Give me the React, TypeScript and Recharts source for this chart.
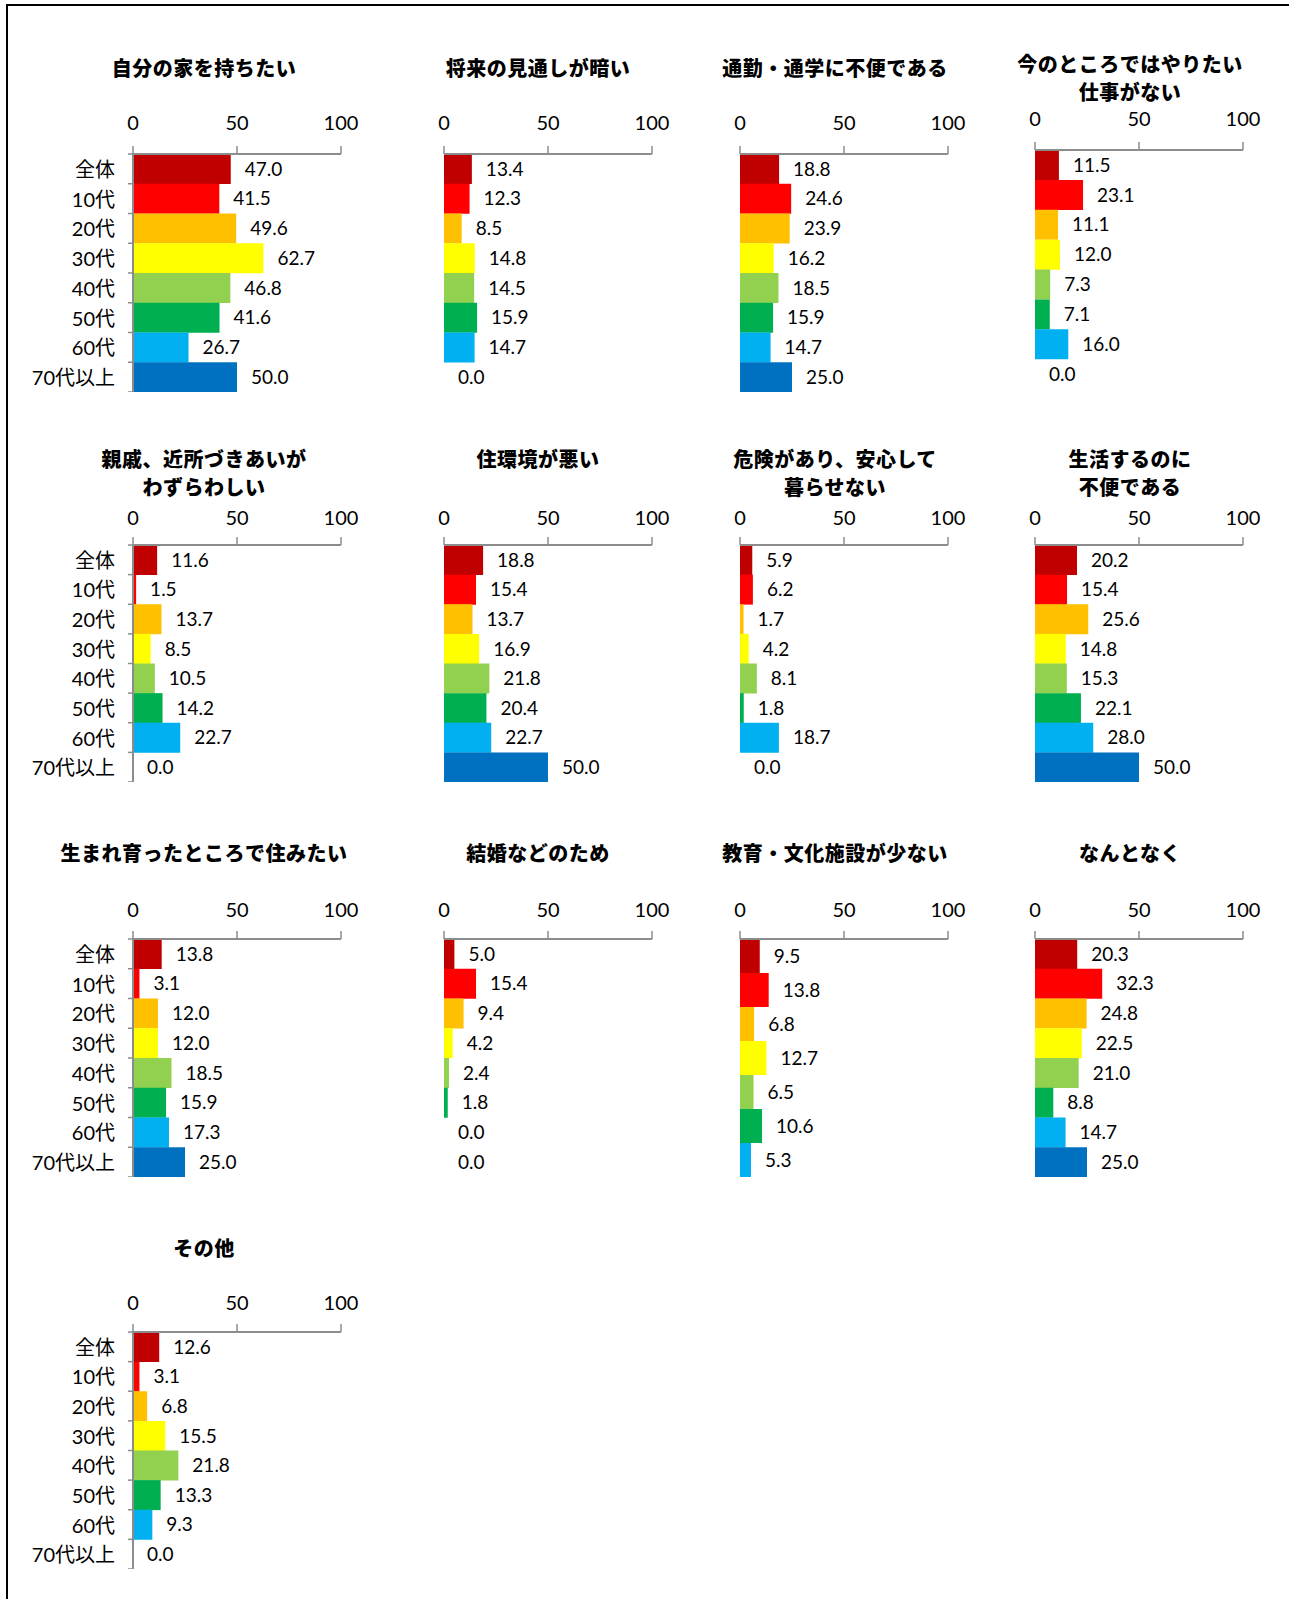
import { BarChart, Bar, XAxis, YAxis, Cell, LabelList } from "recharts"

const CATEGORIES = ["全体", "10代", "20代", "30代", "40代", "50代", "60代", "70代以上"]
const COLORS = ["#C00000", "#FF0000", "#FFC000", "#FFFF00", "#92D050", "#00B050", "#00B0F0", "#0070C0"]
const AXIS_TICKS = [0, 50, 100]

const ownHome = [47.0, 41.5, 49.6, 62.7, 46.8, 41.6, 26.7, 50.0]
const darkFuture = [13.4, 12.3, 8.5, 14.8, 14.5, 15.9, 14.7, 0.0]
const commute = [18.8, 24.6, 23.9, 16.2, 18.5, 15.9, 14.7, 25.0]
const noJob = [11.5, 23.1, 11.1, 12.0, 7.3, 7.1, 16.0, 0.0]
const relatives = [11.6, 1.5, 13.7, 8.5, 10.5, 14.2, 22.7, 0.0]
const badHousing = [18.8, 15.4, 13.7, 16.9, 21.8, 20.4, 22.7, 50.0]
const unsafe = [5.9, 6.2, 1.7, 4.2, 8.1, 1.8, 18.7, 0.0]
const inconvenient = [20.2, 15.4, 25.6, 14.8, 15.3, 22.1, 28.0, 50.0]
const hometown = [13.8, 3.1, 12.0, 12.0, 18.5, 15.9, 17.3, 25.0]
const marriage = [5.0, 15.4, 9.4, 4.2, 2.4, 1.8, 0.0, 0.0]
const education = [9.5, 13.8, 6.8, 12.7, 6.5, 10.6, 5.3]
const noReason = [20.3, 32.3, 24.8, 22.5, 21.0, 8.8, 14.7, 25.0]
const other = [12.6, 3.1, 6.8, 15.5, 21.8, 13.3, 9.3, 0.0]

const PANELS = [
  { title: ["自分の家を持ちたい"], values: ownHome, row: 0, col: 0 },
  { title: ["将来の見通しが暗い"], values: darkFuture, row: 0, col: 1 },
  { title: ["通勤・通学に不便である"], values: commute, row: 0, col: 2 },
  { title: ["今のところではやりたい", "仕事がない"], values: noJob, row: 0, col: 3 },
  { title: ["親戚、近所づきあいが", "わずらわしい"], values: relatives, row: 1, col: 0 },
  { title: ["住環境が悪い"], values: badHousing, row: 1, col: 1 },
  { title: ["危険があり、安心して", "暮らせない"], values: unsafe, row: 1, col: 2 },
  { title: ["生活するのに", "不便である"], values: inconvenient, row: 1, col: 3 },
  { title: ["生まれ育ったところで住みたい"], values: hometown, row: 2, col: 0 },
  { title: ["結婚などのため"], values: marriage, row: 2, col: 1 },
  { title: ["教育・文化施設が少ない"], values: education, row: 2, col: 2 },
  { title: ["なんとなく"], values: noReason, row: 2, col: 3 },
  { title: ["その他"], values: other, row: 3, col: 0 },
]

const COL_X = [133, 444, 740, 1035]
const TITLE_X = [204, 538, 835, 1130]
const ROW_TOP = [154, 545, 939, 1332]
const ROW_BOTTOM = [392, 782, 1177, 1569]
const ROW_TITLE_Y = [68, 459, 853, 1248]
const ROW_TICK_MARGIN = [16, 12, 14, 14]

const PLOT_W = 208
const AXIS_H = 56
const YAXIS_W = 120
const RIGHT_M = 30
const GRAY = "#8c8c8c"
const NUM_FONT = "Lato, 'Noto Sans CJK JP', sans-serif"

function Panel({ title, values, row, col }: { title: string[]; values: number[]; row: number; col: number }) {
  const data = values.map((v, i) => ({ name: CATEGORIES[i], v }))
  // the two-line title in the top right panel pushes its plot up a little
  const top = row === 0 && col === 3 ? 150 : ROW_TOP[row]
  const bottom = row === 0 && col === 3 ? 389 : ROW_BOTTOM[row]
  const plotH = bottom - top
  const band = plotH / values.length
  const lineH = 28
  const titleTop = row === 0 && col === 3 ? 64 - lineH / 2 : ROW_TITLE_Y[row] - lineH / 2

  const renderTick = (props: any) => {
    const { y, payload, index } = props
    return (
      <g>
        <line x1={YAXIS_W - 5} x2={YAXIS_W} y1={y + band / 2} y2={y + band / 2} stroke={GRAY} strokeWidth={1.5} />
        {index === 0 && (
          <line x1={YAXIS_W - 5} x2={YAXIS_W} y1={y - band / 2} y2={y - band / 2} stroke={GRAY} strokeWidth={1.5} />
        )}
        <text x={YAXIS_W - 18} y={y} textAnchor="end" dominantBaseline="central" fontSize={20} fill="#000" fontFamily={NUM_FONT}>
          {payload.value}
        </text>
      </g>
    )
  }

  return (
    <>
      <div
        style={{
          position: "absolute",
          left: TITLE_X[col] - 160,
          top: titleTop,
          width: 320,
          textAlign: "center",
          fontFamily: "'Noto Sans CJK JP', sans-serif",
          fontWeight: 900,
          fontSize: 20,
          lineHeight: `${lineH}px`,
          letterSpacing: 0.5,
          color: "#000",
          whiteSpace: "nowrap",
        }}
      >
        {title.map((t) => (
          <div key={t}>{t}</div>
        ))}
      </div>
      <div style={{ position: "absolute", left: COL_X[col] - YAXIS_W, top: top - AXIS_H }}>
        <BarChart
          width={YAXIS_W + PLOT_W + RIGHT_M}
          height={AXIS_H + plotH}
          layout="vertical"
          data={data}
          margin={{ top: 0, right: RIGHT_M, bottom: 0, left: 0 }}
          barCategoryGap={0}
        >
          <XAxis
            type="number"
            orientation="top"
            domain={[0, 100]}
            ticks={AXIS_TICKS}
            interval={0}
            height={AXIS_H}
            axisLine={{ stroke: GRAY, strokeWidth: 2 }}
            tickLine={{ stroke: GRAY, strokeWidth: 1.5 }}
            tickSize={8}
            tickMargin={ROW_TICK_MARGIN[row]}
            tick={{ fill: "#000", fontSize: 20, fontFamily: NUM_FONT }}
          />
          <YAxis
            type="category"
            dataKey="name"
            width={YAXIS_W}
            interval={0}
            axisLine={col === 0 ? { stroke: GRAY, strokeWidth: 2 } : false}
            tickLine={false}
            tickSize={0}
            tickMargin={0}
            tick={col === 0 ? renderTick : false}
          />
          <Bar dataKey="v" isAnimationActive={false} minPointSize={0.01}>
            {data.map((d, i) => (
              <Cell key={d.name} fill={COLORS[i]} />
            ))}
            <LabelList
              dataKey="v"
              position="right"
              offset={14}
              formatter={(v: any) => Number(v).toFixed(1)}
              fill="#000"
              fontSize={19}
              fontFamily={NUM_FONT}
            />
          </Bar>
        </BarChart>
      </div>
    </>
  )
}

export default function App() {
  return (
    <div style={{ position: "absolute", left: 0, top: 0, width: 1289, height: 1599, background: "#fff", overflow: "hidden" }}>
      <div
        style={{
          position: "absolute",
          left: 6,
          top: 4,
          right: 0,
          bottom: 0,
          borderTop: "2px solid #000",
          borderLeft: "2px solid #000",
        }}
      />
      {PANELS.map((p) => (
        <Panel key={p.title.join("")} {...p} />
      ))}
    </div>
  )
}
